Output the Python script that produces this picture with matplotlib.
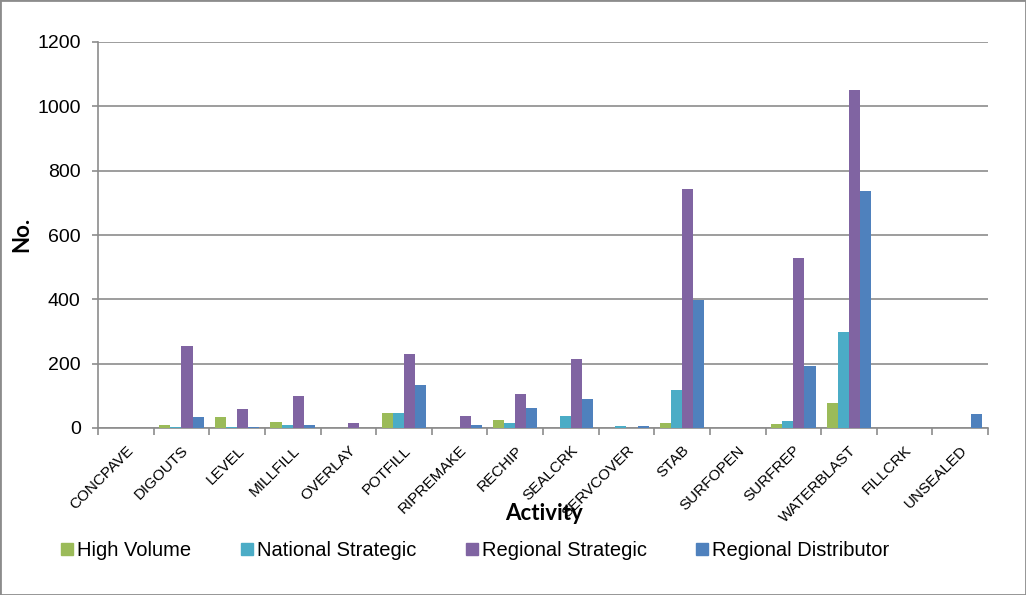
import matplotlib
matplotlib.use("Agg")
import matplotlib.pyplot as plt
import numpy as np
from matplotlib.lines import Line2D
from matplotlib.patches import Rectangle

categories = ["CONCPAVE", "DIGOUTS", "LEVEL", "MILLFILL", "OVERLAY", "POTFILL",
              "RIPREMAKE", "RECHIP", "SEALCRK", "SERVCOVER", "STAB", "SURFOPEN",
              "SURFREP", "WATERBLAST", "FILLCRK", "UNSEALED"]
high_volume = [0, 10, 33, 18, 0, 48, 0, 26, 0, 0, 15, 0, 12, 77, 0, 0]
national_strategic = [0, 2, 3, 10, 0, 46, 0, 14, 36, 7, 119, 0, 21, 298, 0, 0]
regional_strategic = [0, 255, 60, 100, 17, 231, 37, 106, 214, 0, 742, 0, 530, 1052, 0, 0]
regional_distributor = [0, 35, 3, 10, 0, 134, 9, 61, 90, 7, 398, 0, 192, 737, 0, 44]

series = [("High Volume", high_volume, "#9BBB59"),
          ("National Strategic", national_strategic, "#4BACC6"),
          ("Regional Strategic", regional_strategic, "#8064A2"),
          ("Regional Distributor", regional_distributor, "#4F81BD")]

plt.rcParams['font.family'] = ['Liberation Sans', 'DejaVu Sans']

fig = plt.figure(figsize=(10.26, 5.95), dpi=100)
ax = fig.add_axes([98/1026, 1 - 428/595, 890/1026, 386/595])

x = np.arange(len(categories))
w = 0.2
for i, (name, vals, col) in enumerate(series):
    ax.bar(x + (i - 1.5) * w, vals, width=w, color=col, label=name, zorder=3)

ax.set_xlim(-0.5, len(categories) - 0.5)
ax.set_ylim(0, 1200)
ax.set_yticks(np.arange(0, 1201, 200))
ax.yaxis.grid(True, color="#8c8c8c", linewidth=1.2, zorder=0)
ax.set_axisbelow(True)

ax.set_xticks(x)
ax.set_xticklabels(categories, rotation=45, ha="right", rotation_mode="anchor", fontsize=11)
ax.set_xticks(np.arange(-0.5, len(categories)), minor=True)
ax.tick_params(axis="x", which="major", length=0, pad=11)
ax.tick_params(axis="x", which="minor", length=5, color="#8c8c8c", width=1.2)
ax.tick_params(axis="y", length=4.5, color="#8c8c8c", width=1.2, labelsize=14, pad=8)

for s in ["top", "right"]:
    ax.spines[s].set_visible(False)
for s in ["left", "bottom"]:
    ax.spines[s].set_color("#8c8c8c")
    ax.spines[s].set_linewidth(1.2)

fig.text(22/1026, 1 - 234/595, "No.", rotation=90, fontsize=16, fontweight="bold",
         family=["Lato", "DejaVu Sans"], ha="center", va="center")
fig.text(544/1026, 1 - 514/595, "Activity", fontsize=16, fontweight="bold",
         family=["Lato", "DejaVu Sans"], ha="center", va="center")

handles = [Line2D([], [], marker="s", linestyle="none", markersize=8, color=col,
                  markeredgecolor=col) for _, _, col in series]
fig.legend(handles, [n for n, _, _ in series], loc="center left",
           bbox_to_anchor=(39/1026, 1 - 551/595), ncol=4, frameon=False,
           fontsize=14.5, handletextpad=0.0, columnspacing=2.25, handlelength=1.0)

fig.patches.append(Rectangle((0, 0), 1, 1, transform=fig.transFigure, fill=False,
                             edgecolor="#8c8c8c", linewidth=2))

fig.savefig("out.png", dpi=100)
